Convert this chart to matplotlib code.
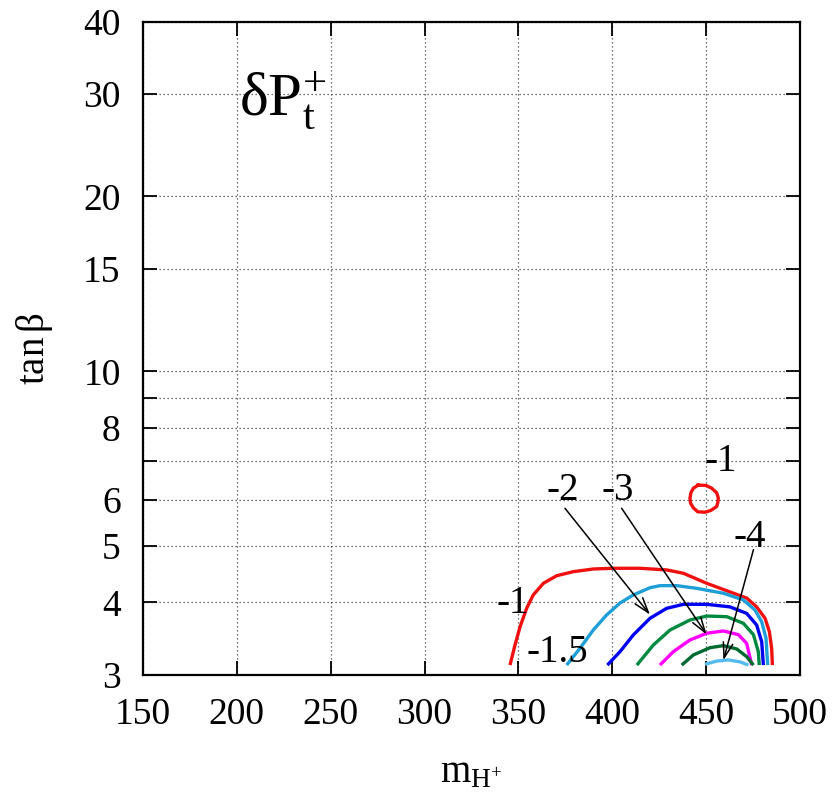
import matplotlib
matplotlib.use("Agg")
import matplotlib.pyplot as plt
from matplotlib.ticker import FixedLocator, FixedFormatter, NullLocator

plt.rcParams['font.family'] = ['Liberation Serif', 'DejaVu Serif']
plt.rcParams['mathtext.fontset'] = 'custom'
plt.rcParams['mathtext.rm'] = 'Liberation Serif'
plt.rcParams['mathtext.it'] = 'Liberation Serif'

# ---- data ----
xticks = [150, 200, 250, 300, 350, 400, 450, 500]
yticks = [3, 4, 5, 6, 7, 8, 9, 10, 15, 20, 30, 40]
ytick_labels = ["3", "4", "5", "6", "", "8", "", "10", "15", "20", "30", "40"]

red_x = [345.5, 348.2, 350.9, 354.4, 357.9, 363.3, 370.4, 379.3, 389.9, 400.6, 414.8,
         429.0, 437.9, 450.3, 462.7, 471.6, 476.9, 481.4, 483.7, 484.9, 485.3]
red_y = [3.12, 3.379, 3.633, 3.908, 4.12, 4.315, 4.447, 4.519, 4.567, 4.58, 4.58,
         4.55, 4.49, 4.315, 4.17, 4.07, 3.93, 3.756, 3.56, 3.335, 3.12]

cyan_x = [375.7, 382.8, 389.9, 397.0, 404.1, 411.2, 420.1, 425.4, 434.3, 445.0, 459.2,
          469.8, 476.0, 479.6, 481.9, 482.8]
cyan_y = [3.12, 3.335, 3.586, 3.806, 3.99, 4.12, 4.24, 4.275, 4.275, 4.23, 4.148,
          4.04, 3.882, 3.706, 3.47, 3.12]

blue_x = [397.4, 404.1, 411.2, 420.1, 429.0, 437.9, 450.3, 462.7, 471.6, 476.9, 479.6, 480.5]
blue_y = [3.12, 3.29, 3.516, 3.756, 3.908, 3.97, 3.97, 3.93, 3.83, 3.658, 3.424, 3.12]

green_x = [413.1, 421.9, 430.8, 441.4, 450.3, 461.0, 469.8, 475.2, 477.8, 478.3]
green_y = [3.12, 3.379, 3.586, 3.731, 3.79, 3.78, 3.683, 3.52, 3.29, 3.12]

magenta_x = [425.4, 432.5, 441.4, 450.3, 459.2, 467.2, 471.6, 474.3]
magenta_y = [3.12, 3.29, 3.447, 3.54, 3.572, 3.52, 3.40, 3.12]

dgreen_x = [437.0, 443.2, 452.1, 459.2, 466.3, 471.6, 475.2]
dgreen_y = [3.12, 3.248, 3.343, 3.37, 3.326, 3.226, 3.12]

lblue_x = [449.4, 455.6, 461.8, 468.1, 472.5]
lblue_y = [3.13, 3.17, 3.184, 3.16, 3.12]

island_x = [445.8, 450.0, 453.0, 455.6, 456.5, 456.2, 455.6, 452.5, 449.4, 445.5, 443.2,
            441.7, 441.4, 441.9, 443.2, 445.8]
island_y = [6.37, 6.36, 6.29, 6.18, 6.05, 5.94, 5.85, 5.76, 5.72, 5.73, 5.82,
            5.93, 6.05, 6.18, 6.29, 6.37]

# contour labels: text, text centre (x, tanb), arrow tail / head (x, tanb) or None
label_text = ["-1", "-1", "-1.5", "-2", "-3", "-4"]
label_pos = [(347.0, 3.99), (458.0, 6.99), (370.8, 3.28), (373.5, 6.23), (403.0, 6.23), (473.4, 5.17)]
arrow_tail = [None, None, None, (374.8, 5.81), (405.0, 5.81), (475.2, 4.93)]
arrow_head = [None, None, None, (420.1, 3.81), (450.3, 3.52), (459.2, 3.18)]

colors = ['#f01010', '#1e9fd8', '#0000f0', '#008a40', '#ff00ff', '#006a30', '#55bbee']

fig = plt.figure(figsize=(8.39, 7.94), dpi=100)
ax = fig.add_axes([0.1704, 0.1499, 0.7831, 0.8228])
ax.set_yscale('log')
ax.set_xlim(150, 500)
ax.set_ylim(3, 40)

ax.xaxis.set_major_locator(FixedLocator(xticks))
ax.yaxis.set_major_locator(FixedLocator(yticks))
ax.yaxis.set_major_formatter(FixedFormatter(ytick_labels))
ax.yaxis.set_minor_locator(NullLocator())
ax.xaxis.set_minor_locator(NullLocator())
ax.grid(True, which='major', color='#444444', linestyle=(0, (1, 2.2)), linewidth=0.9)

ax.tick_params(which='major', direction='in', length=10, width=1.3,
               top=True, right=True, labelsize=27)
ax.tick_params(axis='y', pad=16)
ax.tick_params(axis='x', pad=16)
for s in ax.spines.values():
    s.set_linewidth(1.6)

lw = 2.4
for xs, ys, c in [(red_x, red_y, colors[0]), (cyan_x, cyan_y, colors[1]),
                  (blue_x, blue_y, colors[2]), (green_x, green_y, colors[3]),
                  (magenta_x, magenta_y, colors[4]), (dgreen_x, dgreen_y, colors[5]),
                  (lblue_x, lblue_y, colors[6])]:
    ax.plot(xs, ys, color=c, lw=lw, solid_capstyle='butt', solid_joinstyle='round', zorder=3)
ax.plot(island_x, island_y, color=colors[0], lw=lw, solid_joinstyle='round', zorder=3)

for t, p, h, tl in zip(label_text, label_pos, arrow_head, arrow_tail):
    ax.text(p[0], p[1], t, fontsize=28, ha='center', va='center', zorder=4)
    if h is not None:
        ax.annotate('', xy=h, xytext=tl,
                    arrowprops=dict(arrowstyle='->,head_length=1.1,head_width=0.35',
                                    color='black', lw=1.1, shrinkA=0, shrinkB=0), zorder=5)

ax.text(0.146, 0.880, r'$\delta\mathrm{P}_{\mathrm{t}}^{+}$', transform=ax.transAxes,
        fontsize=44, ha='left', va='center')

ax.set_xlabel(r'$\mathrm{m}_{\mathrm{H}^{+}}$', fontsize=28, labelpad=16)
ax.set_ylabel(r'$\tan\beta$', fontsize=28, labelpad=20)

fig.savefig('out.png', dpi=100)
